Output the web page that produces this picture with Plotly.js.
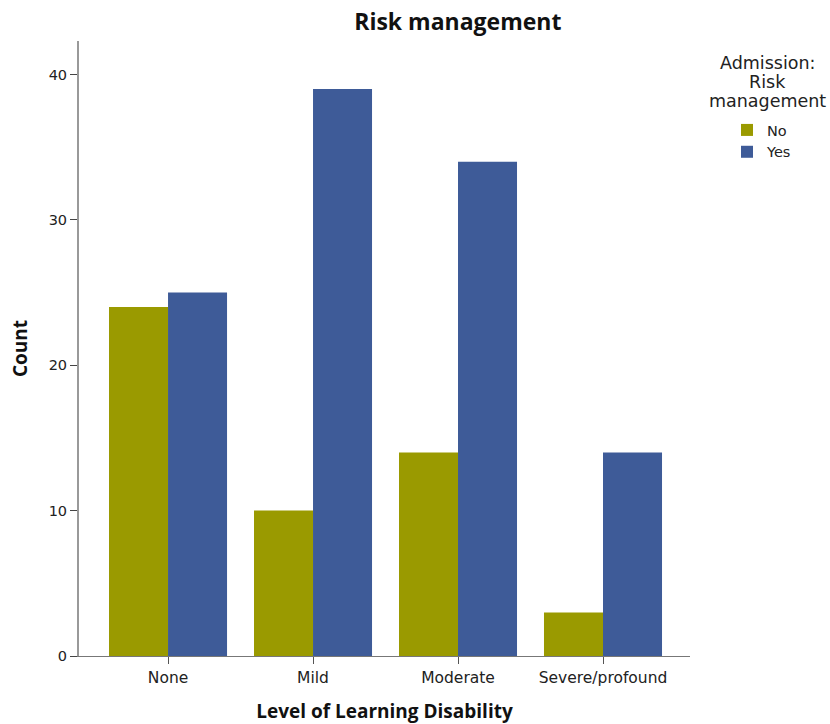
<!DOCTYPE html>
<html><head><meta charset="utf-8">
<script src="https://cdn.plot.ly/plotly-3.0.1.min.js"></script>
<style>body{margin:0}#c{width:830px;height:724px}</style>
</head><body><div id="c"></div>
<script>
var categories = ["None", "Mild", "Moderate", "Severe/profound"];
var noValues = [24, 10, 14, 3];
var yesValues = [25, 39, 34, 14];
var yTicks = [0, 10, 20, 30, 40];
var legendTitleLines = ["Admission:", "Risk", "management"];

var traces = [
  {type: "bar", name: "No", x: categories, y: noValues, marker: {color: "#9a9a00", line: {width: 0}}},
  {type: "bar", name: "Yes", x: categories, y: yesValues, marker: {color: "#3e5b98", line: {width: 0}}}
];
var annotations = legendTitleLines.map(function (t, i) {
  return {text: t, xref: "paper", yref: "paper", x: (767 - 79) / 611, y: (656 - (63 + 19 * i)) / 615,
    xanchor: "center", yanchor: "middle", showarrow: false,
    font: {family: "DejaVu Sans", size: 17.5, color: "#222"}};
});
var layout = {
  width: 830, height: 724,
  margin: {l: 79, r: 140, t: 41, b: 68},
  paper_bgcolor: "#fff", plot_bgcolor: "#fff",
  barmode: "group", bargap: 0.186, bargroupgap: 0,
  font: {family: "DejaVu Sans", size: 14, color: "#333"},
  title: {text: "<b>Risk management</b>", x: 0.62, xref: "paper", xanchor: "center", y: 0.969, yref: "container", yanchor: "middle", font: {family: "Open Sans", size: 23, color: "#111"}},
  xaxis: {
    type: "category", range: [-0.614, 3.6],
    showline: true, linecolor: "#777", linewidth: 1,
    ticks: "outside", ticklen: 7, tickcolor: "#555",
    showgrid: false, zeroline: false,
    tickfont: {family: "DejaVu Sans", size: 15.5, color: "#222"},
    title: {text: "<b>Level of Learning Disability</b>", standoff: 20, font: {family: "Open Sans", size: 19, color: "#111"}}
  },
  yaxis: {
    range: [0, 42.3], tickvals: yTicks,
    showline: true, linecolor: "#999", linewidth: 2,
    ticks: "outside", ticklen: 7, tickcolor: "#444",
    showgrid: false, zeroline: false,
    tickfont: {family: "DejaVu Sans", size: 14.5, color: "#222"},
    title: {text: "<b>Count</b>", standoff: 16, font: {family: "Open Sans", size: 19, color: "#111"}}
  },
  showlegend: true,
  legend: {x: 727 / 830, xref: "container", y: 1 - 114 / 724, yref: "container", xanchor: "left", yanchor: "top",
    font: {family: "DejaVu Sans", size: 14.5, color: "#222"}, itemwidth: 30, tracegroupgap: 0, bgcolor: "rgba(0,0,0,0)"},
  annotations: annotations
};
Plotly.newPlot("c", traces, layout, {displayModeBar: false});
</script></body></html>
